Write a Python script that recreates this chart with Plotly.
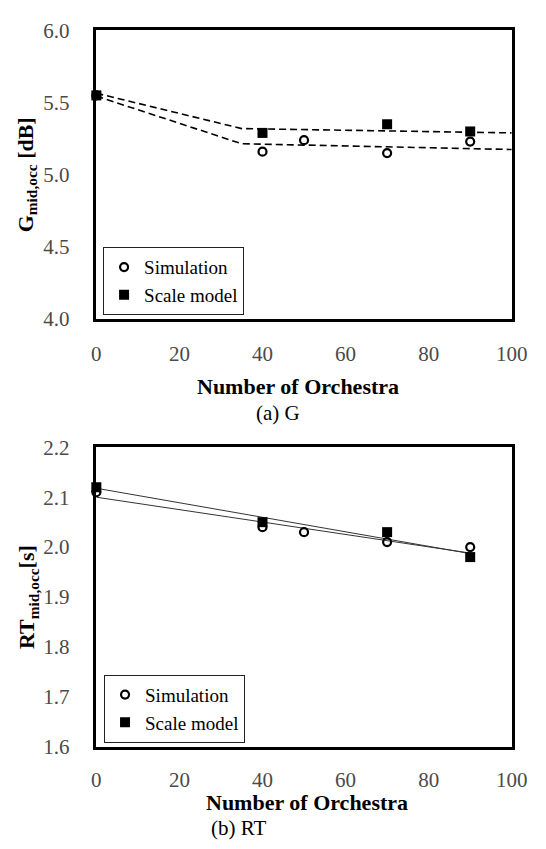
import plotly.graph_objects as go

# ---- data ----
orch_sim = [0, 40, 50, 70, 90]
orch_scale = [0, 40, 70, 90]

g_sim = [5.55, 5.16, 5.24, 5.15, 5.23]
g_scale = [5.55, 5.29, 5.35, 5.30]
g_fit_x = [0, 35, 100]
g_fit_scale = [5.565, 5.32, 5.29]
g_fit_sim = [5.545, 5.215, 5.175]

rt_sim = [2.11, 2.04, 2.03, 2.01, 2.00]
rt_scale = [2.12, 2.05, 2.03, 1.98]
rt_fit_x = [0, 90]
rt_fit_sim = [2.100, 1.988]
rt_fit_scale = [2.118, 1.987]

x_ticks = [0, 20, 40, 60, 80, 100]
g_ticks = [4.0, 4.5, 5.0, 5.5, 6.0]
rt_ticks = [1.6, 1.7, 1.8, 1.9, 2.0, 2.1, 2.2]

W, H = 546, 849
FONT = "Liberation Serif, Times New Roman, DejaVu Serif, serif"

def px(x):
    return x / W

def py(y):
    return 1 - y / H

fig = go.Figure()

# top panel lines
for yy in (g_fit_scale, g_fit_sim):
    fig.add_trace(go.Scatter(x=g_fit_x, y=yy, mode="lines", xaxis="x", yaxis="y",
                             line=dict(color="black", width=1.6, dash="7px,4px"),
                             showlegend=False, hoverinfo="skip", cliponaxis=False))
fig.add_trace(go.Scatter(x=orch_sim, y=g_sim, mode="markers", name="Simulation",
                         xaxis="x", yaxis="y", legend="legend", cliponaxis=False,
                         marker=dict(symbol="circle-open", size=8, color="black",
                                     line=dict(width=2.2, color="black"))))
fig.add_trace(go.Scatter(x=orch_scale, y=g_scale, mode="markers", name="Scale model",
                         xaxis="x", yaxis="y", legend="legend", cliponaxis=False,
                         marker=dict(symbol="square", size=10, color="black")))

# bottom panel lines
for yy in (rt_fit_scale, rt_fit_sim):
    fig.add_trace(go.Scatter(x=rt_fit_x, y=yy, mode="lines", xaxis="x2", yaxis="y2",
                             line=dict(color="#333333", width=1),
                             showlegend=False, hoverinfo="skip", cliponaxis=False))
fig.add_trace(go.Scatter(x=orch_sim, y=rt_sim, mode="markers", name="Simulation",
                         xaxis="x2", yaxis="y2", legend="legend2", cliponaxis=False,
                         marker=dict(symbol="circle-open", size=8, color="black",
                                     line=dict(width=2.2, color="black"))))
fig.add_trace(go.Scatter(x=orch_scale, y=rt_scale, mode="markers", name="Scale model",
                         xaxis="x2", yaxis="y2", legend="legend2", cliponaxis=False,
                         marker=dict(symbol="square", size=10, color="black")))

xdom = [px(95), px(527)]
tickfont = dict(family=FONT, size=21, color="#4a4a4a")

axis_common = dict(showline=True, linewidth=2.5, linecolor="black", mirror=True,
                   showgrid=False, zeroline=False, ticks="", tickfont=tickfont)

legend_common = dict(xanchor="left", yanchor="bottom",
                     bgcolor="white", bordercolor="#222222", borderwidth=1,
                     font=dict(family=FONT, size=19, color="black"),
                     itemwidth=30, tracegroupgap=0)

ann_font = dict(family=FONT, size=22, color="black")

fig.update_layout(
    width=W, height=H,
    margin=dict(l=0, r=0, t=0, b=0),
    paper_bgcolor="white", plot_bgcolor="white",
    font=dict(family=FONT, color="black"),
    xaxis=dict(domain=xdom, anchor="y", range=[0, 100], tickvals=x_ticks,
               ticklabelstandoff=14, **axis_common),
    yaxis=dict(domain=[py(316), py(19)], anchor="x", range=[4.0, 6.0], tickvals=g_ticks,
               tickformat=".1f", ticklabelstandoff=20, **axis_common),
    xaxis2=dict(domain=xdom, anchor="y2", range=[0, 100], tickvals=x_ticks,
                ticklabelstandoff=12, **axis_common),
    yaxis2=dict(domain=[py(756), py(448)], anchor="x2", range=[1.6, 2.2], tickvals=rt_ticks,
                tickformat=".1f", ticklabelstandoff=20, **axis_common),
    legend=dict(x=px(102), y=py(312), **legend_common),
    legend2=dict(x=px(103), y=py(752), **legend_common),
    annotations=[
        dict(text="<b>G<sub>mid,occ</sub> [dB]</b>", x=px(23), y=py(168), xref="paper", yref="paper",
             xanchor="center", yanchor="middle",
             textangle=-90, showarrow=False, font=ann_font),
        dict(text="<b>RT<sub>mid,occ</sub>[s]</b>", x=px(24), y=py(602), xref="paper", yref="paper",
             xanchor="center", yanchor="middle",
             textangle=-90, showarrow=False, font=ann_font),
        dict(text="<b>Number of Orchestra</b>", x=px(305), y=py(385), xref="paper", yref="paper",
             xanchor="center", yanchor="middle", showarrow=False, font=ann_font),
        dict(text="<b>Number of Orchestra</b>", x=px(314), y=py(814), xref="paper", yref="paper",
             xanchor="center", yanchor="middle", showarrow=False, font=ann_font),
        dict(text="(a) G", x=px(284), y=py(413), xref="paper", yref="paper",
             xanchor="center", yanchor="middle", showarrow=False,
             font=dict(family=FONT, size=21, color="black")),
        dict(text="(b) RT", x=px(243), y=py(840), xref="paper", yref="paper",
             xanchor="center", yanchor="middle", showarrow=False,
             font=dict(family=FONT, size=21, color="black")),
    ],
)

fig.write_html("out.html")
